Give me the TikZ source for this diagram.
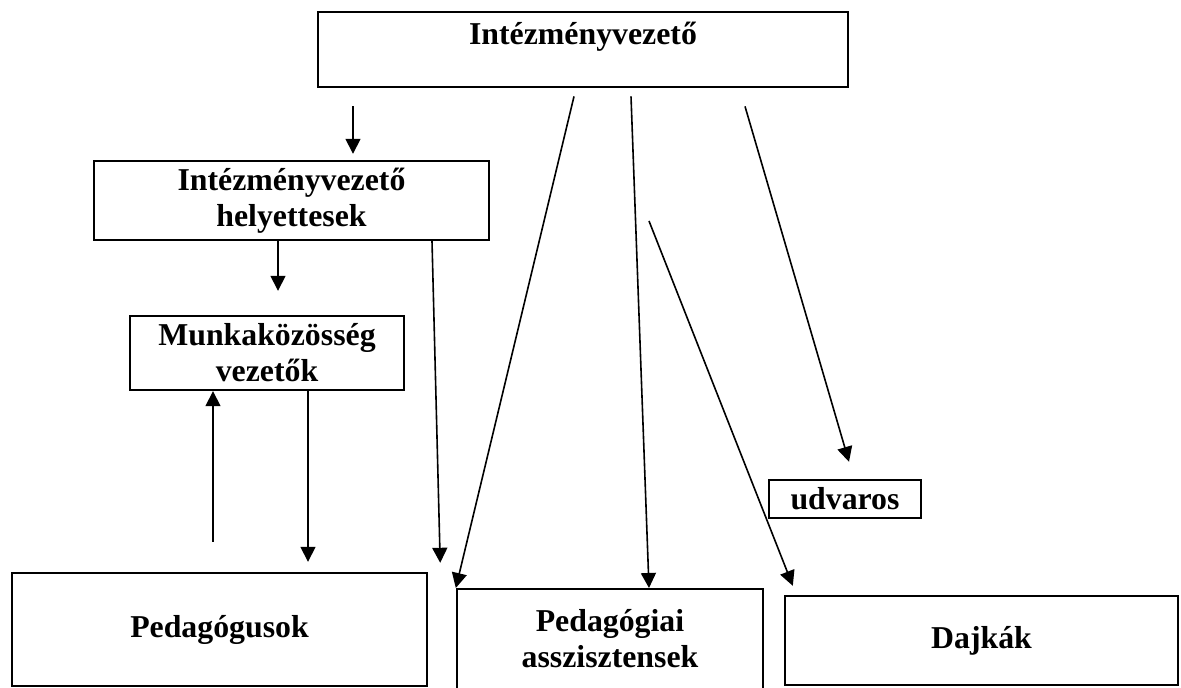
\documentclass[tikz,border=0pt]{standalone}
\usepackage{fontspec}
\setmainfont{Liberation Serif}
\usetikzlibrary{arrows.meta,positioning}
\tikzset{
  box/.style   = {draw, line width=1.2pt, inner sep=0pt, align=center,
                  font=\bfseries\fontsize{15.9}{18}\selectfont},
  arr/.style   = {-{Triangle[length=7.5pt,width=7.5pt]}, line width=0.8pt}
}

\begin{document}
\begin{tikzpicture}[x=0.5pt,y=-0.5pt]
\useasboundingbox (0,0) rectangle (1181,688);

% head on top, deputies and team leaders on the left, staff at the bottom
\node[box, anchor=north, minimum width=265pt, text height=16pt, text depth=21.5pt] (vez) at (583,11) {Intézményvezető};
\node[box, minimum width=197.5pt, minimum height=39.5pt] (hely) at (291.5,200.5) {Intézményvezető\\helyettesek};
\node[box, minimum width=137pt, minimum height=37pt]     (munk) at (267,353)     {Munkaközösség\\vezetők};
\node[box, minimum width=207.5pt, minimum height=56.5pt] (ped)  at (219.5,629.5) {Pedagógusok};
\node[box, anchor=north, minimum width=153pt, text height=21pt, text depth=30pt] (asz) at (610,588)
  {\begin{tabular}[t]{@{}c@{}}Pedagógiai\\asszisztensek\end{tabular}};
\node[box, minimum width=196.5pt, minimum height=44.5pt] (dajk) at (981.5,640.5) {Dajkák};
\node[box, minimum width=76pt, minimum height=19pt]      (udv)  at (845,499)     {udvaros};

\coordinate (d0) at (649,221);

\draw[arr] ([xshift=-115pt,yshift=-9pt]vez.south) -- ([xshift=30.75pt,yshift=3pt]hely.north);
\draw[arr] ([xshift=-6.75pt]hely.south) -- ([xshift=5.5pt,yshift=12pt]munk.north);
\draw[arr] ([xshift=-3.25pt,yshift=15pt]ped.north) -- ([xshift=-27pt]munk.south);
\draw[arr] ([xshift=20.5pt]munk.south) -- ([xshift=44.25pt,yshift=5pt]ped.north);
\draw[arr] ([xshift=70.25pt]hely.south) -- ([xshift=6pt,yshift=4.5pt]ped.north east);
\draw[arr] ([xshift=-4.5pt,yshift=-4pt]vez.south) -- (asz.north west);
\draw[arr] ([xshift=24pt,yshift=-4pt]vez.south) -- ([xshift=19.5pt]asz.north);
\draw[arr] (d0) -- ([xshift=4.5pt,yshift=4.5pt]dajk.north west);
\draw[arr] ([xshift=81pt,yshift=-9pt]vez.south) -- ([xshift=2pt,yshift=8.5pt]udv.north);

\end{tikzpicture}
\end{document}
